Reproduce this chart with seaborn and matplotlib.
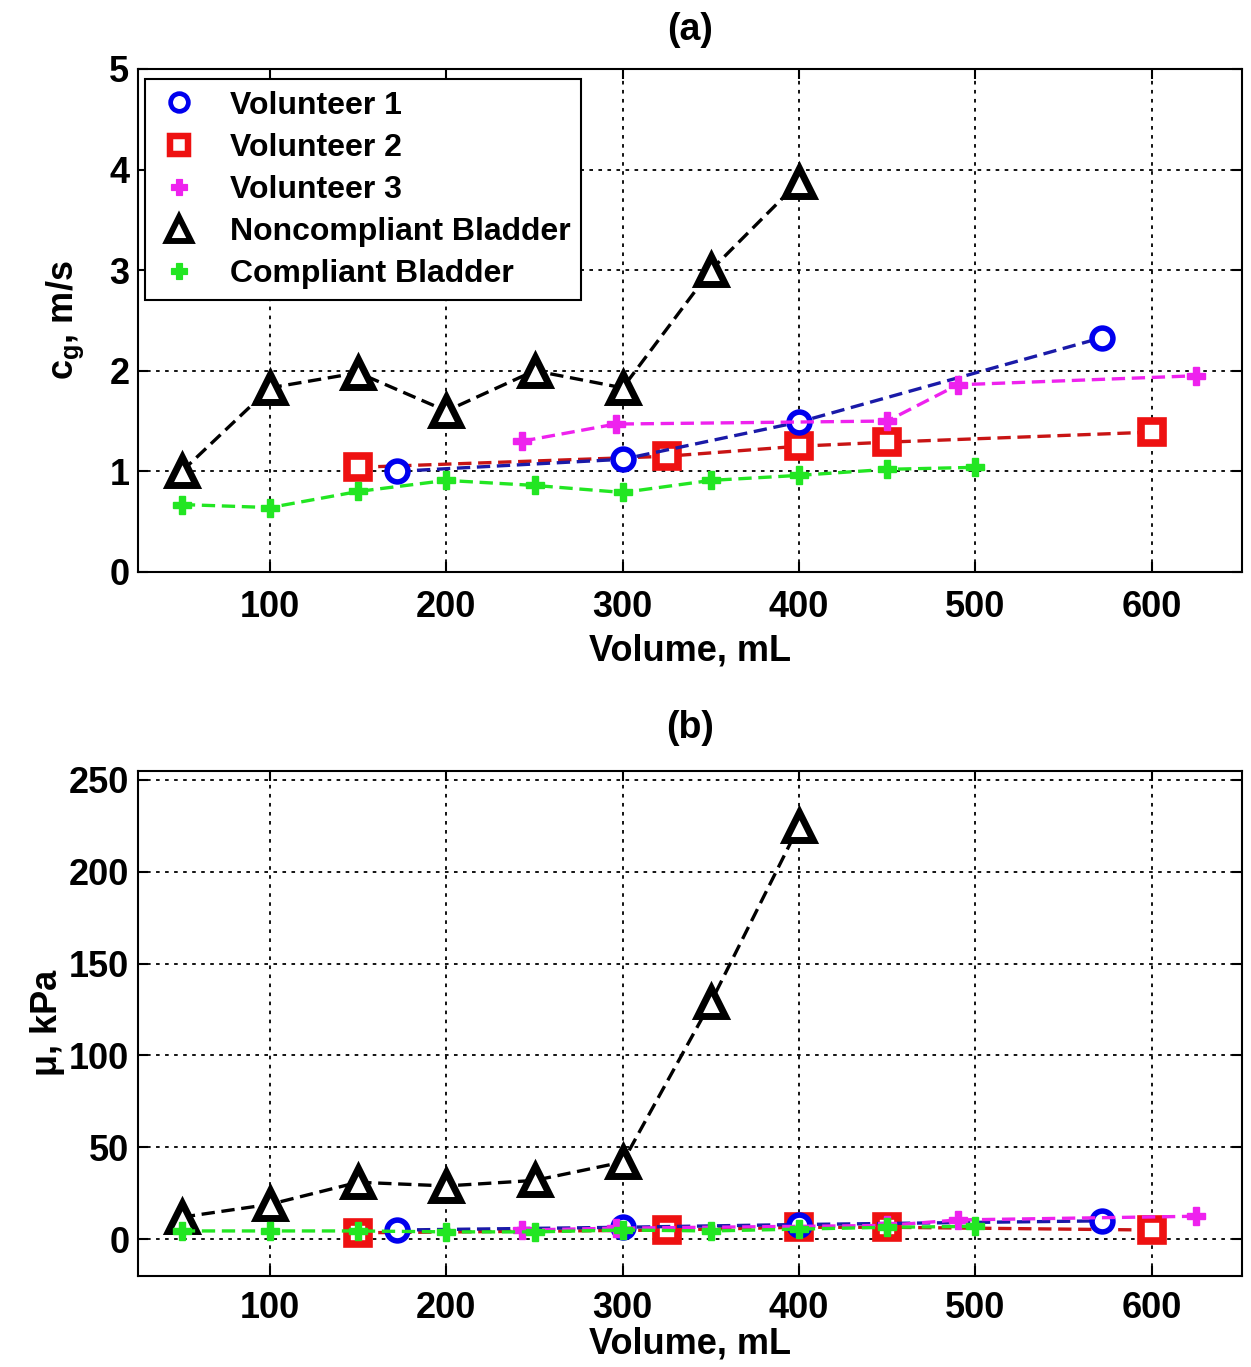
import matplotlib
matplotlib.use("Agg")
import matplotlib.pyplot as plt
from matplotlib.lines import Line2D
import seaborn as sns

# volumes (mL) and readings for each subject
vol1_ml = [172, 300, 400, 572]
vol1_cg = [1.00, 1.12, 1.49, 2.33]
vol1_mu = [5.0, 6.5, 8.0, 10.0]

vol2_ml = [150, 325, 400, 450, 600]
vol2_cg = [1.04, 1.15, 1.25, 1.29, 1.39]
vol2_mu = [3.5, 5.0, 6.5, 6.5, 5.0]

vol3_ml = [243, 296, 450, 490, 625]
vol3_cg = [1.30, 1.47, 1.50, 1.86, 1.95]
vol3_mu = [5.0, 6.0, 7.5, 10.5, 12.5]

noncomp_ml = [50, 100, 150, 200, 250, 300, 350, 400]
noncomp_cg = [1.00, 1.83, 1.98, 1.60, 2.00, 1.83, 3.00, 3.88]
noncomp_mu = [12, 19, 31, 29, 32, 42, 129, 225]

comp_ml = [50, 100, 150, 200, 250, 300, 350, 400, 450, 500]
comp_cg = [0.67, 0.64, 0.80, 0.91, 0.86, 0.79, 0.91, 0.96, 1.02, 1.04]
comp_mu = [4.5, 4.5, 4.5, 4.0, 4.0, 5.0, 4.5, 5.5, 6.5, 7.0]

labels = ["Volunteer 1", "Volunteer 2", "Volunteer 3",
          "Noncompliant Bladder", "Compliant Bladder"]
xs = dict(zip(labels, [vol1_ml, vol2_ml, vol3_ml, noncomp_ml, comp_ml]))
cg = dict(zip(labels, [vol1_cg, vol2_cg, vol3_cg, noncomp_cg, comp_cg]))
mu = dict(zip(labels, [vol1_mu, vol2_mu, vol3_mu, noncomp_mu, comp_mu]))

styles = {
    "Volunteer 1": dict(line="#1a1aa8", mc="#0000ee", marker="o", ms=15, mew=4, mfc="white"),
    "Volunteer 2": dict(line="#c81414", mc="#ee1111", marker="s", ms=16, mew=5.5, mfc="white"),
    "Volunteer 3": dict(line="#ee22ee", mc="#ee22ee", marker="P", ms=13, mew=1, mfc="#ee22ee"),
    "Noncompliant Bladder": dict(line="black", mc="black", marker="^", ms=20, mew=5, mfc="white"),
    "Compliant Bladder": dict(line="#22e622", mc="#22e622", marker="P", ms=13, mew=1, mfc="#22e622"),
}
draw_order = ["Volunteer 2", "Volunteer 1", "Volunteer 3",
              "Noncompliant Bladder", "Compliant Bladder"]

sns.set_theme(style="whitegrid")
plt.rcParams["font.family"] = ["Liberation Sans", "DejaVu Sans"]
plt.rcParams["font.weight"] = "bold"
plt.rcParams["axes.labelweight"] = "bold"
plt.rcParams["text.color"] = "black"
plt.rcParams["axes.labelcolor"] = "black"
plt.rcParams["mathtext.fontset"] = "custom"
plt.rcParams["mathtext.rm"] = "Liberation Sans:bold"
plt.rcParams["mathtext.bf"] = "Liberation Sans:bold"

fig = plt.figure(figsize=(12.51, 13.67), dpi=100)
ax1 = fig.add_axes([0.1101, 0.5816, 0.8825, 0.3680])
ax2 = fig.add_axes([0.1101, 0.0666, 0.8825, 0.3696])


def draw(ax, yvals, xpad, lpad):
    for name in draw_order:
        st = styles[name]
        sns.lineplot(x=xs[name], y=yvals[name], ax=ax, color=st["line"],
                     linestyle=(0, (4, 2)), linewidth=2.4,
                     marker=st["marker"], markersize=st["ms"],
                     markeredgewidth=st["mew"], markeredgecolor=st["mc"],
                     markerfacecolor=st["mfc"], legend=False)
    ax.set_facecolor("white")
    ax.set_axisbelow(True)
    ax.grid(True, color="black", linestyle=(0, (2, 3)), linewidth=1.3)
    for sp in ax.spines.values():
        sp.set_color("black")
        sp.set_linewidth(1.5)
    ax.tick_params(axis="both", direction="in", length=7, width=1.5,
                   bottom=True, left=True, top=True, right=True,
                   labelsize=26, colors="black")
    ax.tick_params(axis="x", pad=xpad)
    ax.tick_params(axis="y", pad=6)
    ax.set_xlim(25, 651)
    ax.set_xticks([100, 200, 300, 400, 500, 600])
    ax.set_xlabel("Volume, mL", fontsize=26, labelpad=lpad)


draw(ax1, cg, 13, 6)
ax1.set_ylim(0, 5)
ax1.set_yticks([0, 1, 2, 3, 4, 5])
ax1.set_ylabel(r"c$_\mathregular{g}$, m/s", fontsize=26, labelpad=17)

draw(ax2, mu, 11, 0)
ax2.set_ylim(-20, 255)
ax2.set_yticks([0, 50, 100, 150, 200, 250])
ax2.set_ylabel("\u03bc, kPa", fontsize=26, labelpad=3)

fig.text(0.5513, 1 - 30 / 1367, "(a)", ha="center", va="center",
         fontsize=27, fontweight="bold")
fig.text(0.5513, 1 - 728 / 1367, "(b)", ha="center", va="center",
         fontsize=27, fontweight="bold")

handles = []
for name in labels:
    st = styles[name]
    handles.append(Line2D([], [], linestyle="none", marker=st["marker"],
                          markersize=st["ms"] * 0.85, markeredgewidth=st["mew"] * 0.85,
                          markeredgecolor=st["mc"], markerfacecolor=st["mfc"]))
leg = ax1.legend(handles, labels, loc="upper left", bbox_to_anchor=(0.0066, 0.979),
                 borderaxespad=0, fontsize=23, frameon=True, fancybox=False,
                 framealpha=1, edgecolor="black", handlelength=1.4,
                 handletextpad=0.9, labelspacing=0.38, borderpad=0.35)
leg.get_frame().set_linewidth(1.5)
for t in leg.get_texts():
    t.set_color("black")

fig.savefig("out.png", dpi=100, facecolor="white")
